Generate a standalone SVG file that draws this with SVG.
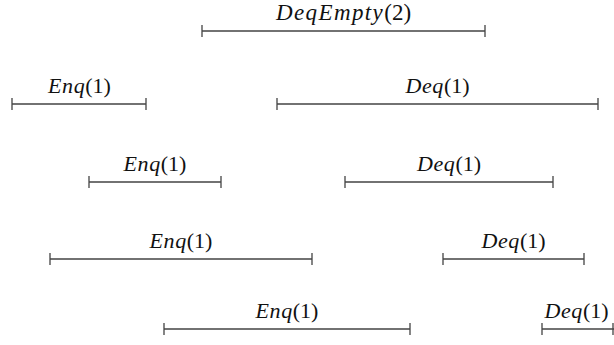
<svg xmlns="http://www.w3.org/2000/svg" width="614" height="345" viewBox="0 0 614 345">
<style>
.bar{stroke:#444;stroke-width:1.3;fill:none}
.lbl{font-family:'Liberation Serif','Times New Roman',serif;font-size:22px;fill:#111;text-anchor:middle}
.it{font-style:italic;letter-spacing:0.6px}
.wide{font-size:23px;letter-spacing:1.4px}
</style>
<rect width="614" height="345" fill="#fff"/>
<g id="connectors">
<path class="bar" d="M202 31H485M202 25V37M485 25V37"/>
<path class="bar" d="M12 104H146M12 98V110M146 98V110"/>
<path class="bar" d="M277 104H598M277 98V110M598 98V110"/>
<path class="bar" d="M89 182H221M89 176V188M221 176V188"/>
<path class="bar" d="M345 182H553M345 176V188M553 176V188"/>
<path class="bar" d="M50 259H312M50 253V265M312 253V265"/>
<path class="bar" d="M443 259H584M443 253V265M584 253V265"/>
<path class="bar" d="M164 329H410M164 323V335M410 323V335"/>
<path class="bar" d="M542 329H614M542 323V335M613 323V335"/>
</g>
<g id="deqempty2"><text class="lbl" x="343.5" y="20"><tspan class="it wide">DeqEmpty</tspan><tspan font-size="23">(2)</tspan></text></g>
<g id="enq-r2"><text class="lbl" x="79.5" y="93"><tspan class="it">Enq</tspan>(1)</text></g>
<g id="deq-r2"><text class="lbl" x="437.5" y="93"><tspan class="it">Deq</tspan>(1)</text></g>
<g id="enq-r3"><text class="lbl" x="155" y="171"><tspan class="it">Enq</tspan>(1)</text></g>
<g id="deq-r3"><text class="lbl" x="449" y="171"><tspan class="it">Deq</tspan>(1)</text></g>
<g id="enq-r4"><text class="lbl" x="181" y="248"><tspan class="it">Enq</tspan>(1)</text></g>
<g id="deq-r4"><text class="lbl" x="513.5" y="248"><tspan class="it">Deq</tspan>(1)</text></g>
<g id="enq-r5"><text class="lbl" x="287" y="318"><tspan class="it">Enq</tspan>(1)</text></g>
<g id="deq-r5"><text class="lbl" x="576.5" y="318"><tspan class="it">Deq</tspan>(1)</text></g>
</svg>
